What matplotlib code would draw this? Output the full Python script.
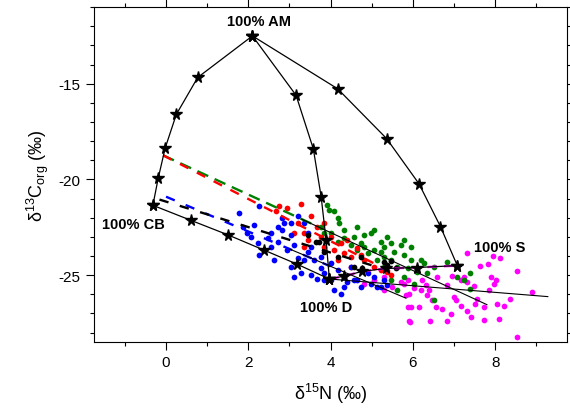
import matplotlib
matplotlib.use("Agg")
import matplotlib.pyplot as plt
from matplotlib.ticker import MultipleLocator

plt.rcParams["font.family"] = ["Liberation Sans", "DejaVu Sans"]
plt.rcParams["mathtext.fontset"] = "custom"
plt.rcParams["mathtext.rm"] = "Liberation Sans"
plt.rcParams["mathtext.it"] = "Liberation Sans:italic"
plt.rcParams["axes.unicode_minus"] = False

# end-member mixing curves (stars)
am_cb_x = [2.1, 0.77, 0.25, -0.02, -0.19, -0.32]
am_cb_y = [-12.5, -14.67, -16.6, -18.35, -19.93, -21.35]
am_d_x = [2.1, 3.16, 3.58, 3.77, 3.89, 3.97]
am_d_y = [-12.5, -15.6, -18.4, -20.9, -23.16, -25.2]
am_s_x = [2.1, 4.17, 5.36, 6.15, 6.67, 7.08]
am_s_y = [-12.5, -15.26, -17.86, -20.23, -22.46, -24.5]
cb_d_x = [-0.32, 0.61, 1.5, 2.37, 3.18, 3.97]
cb_d_y = [-21.35, -22.14, -22.89, -23.68, -24.42, -25.2]
d_s_x = [3.97, 4.33, 4.77, 5.35, 6.1, 7.08]
d_s_y = [-25.2, -25.05, -24.8, -24.65, -24.6, -24.5]

# sample data
blue_x = [1.78, 2.27, 2.14, 2.06, 2.23, 2.27, 2.63, 2.39, 2.47, 2.55, 2.71, 2.83,
          2.87, 2.83, 3.03, 3.11, 3.20, 3.36, 3.44, 3.52, 3.60, 3.52, 3.68, 3.84,
          4.00, 4.17, 4.25, 4.41, 4.49, 4.65, 4.90, 5.06, 5.14, 5.30, 5.38, 4.00,
          3.76, 3.36, 3.11, 3.28, 3.03, 3.84, 4.09, 4.33, 4.73, 3.03, 2.55, 1.98,
          1.86, 3.20, 3.76, 2.95, 2.71, 3.44, 4.33, 4.98, 5.22, 4.57]
blue_y = [-21.75, -21.37, -22.37, -22.98, -23.33, -23.95, -24.21, -23.68, -23.07,
          -22.81, -23.25, -22.02, -22.28, -22.63, -22.89, -23.42, -21.93, -22.28,
          -22.81, -23.51, -24.21, -25.00, -25.18, -24.91, -25.26, -24.74, -25.96,
          -25.35, -24.56, -25.26, -24.91, -25.09, -25.61, -25.26, -25.53, -24.39,
          -24.04, -24.21, -25.09, -24.91, -24.56, -25.26, -25.79, -25.61, -25.61,
          -22.28, -23.51, -22.81, -22.46, -24.12, -24.65, -23.68, -22.46, -23.77,
          -25.09, -25.44, -25.61, -25.26]
red_x = [2.75, 3.28, 2.95, 3.11, 3.36, 3.20, 3.44, 3.68, 3.84, 4.09, 4.25, 4.33,
         4.49, 4.65, 4.81, 5.06, 5.22, 5.38, 4.17, 4.00, 4.41, 3.52, 3.84, 3.76,
         3.36, 4.49, 2.67, 5.46, 4.73]
red_y = [-21.40, -21.26, -21.49, -22.81, -22.81, -22.28, -23.16, -22.46, -23.51,
         -23.68, -23.33, -23.86, -24.04, -23.60, -24.21, -24.56, -24.74, -24.82,
         -24.21, -22.98, -23.16, -21.93, -22.28, -22.98, -23.51, -24.56, -21.67,
         -25.00, -23.95]
green_x = [3.92, 3.96, 4.17, 4.21, 4.33, 4.65, 4.81, 4.98, 5.06, 5.22, 5.30, 5.46,
           5.70, 5.54, 5.79, 5.95, 6.19, 6.27, 6.35, 6.51, 6.84, 7.40, 7.40, 6.51,
           5.62, 5.30, 5.14, 4.90, 4.65, 4.49, 4.33, 4.17, 4.00, 3.84, 3.76, 4.57,
           4.73, 5.06, 5.46, 5.87, 6.03, 5.46, 5.79, 6.11, 7.08, 7.24, 5.95, 5.79,
           5.38, 5.30, 5.62, 4.09, 4.81, 5.22]
green_y = [-21.32, -21.58, -22.02, -22.28, -22.63, -22.46, -22.89, -22.81, -22.63,
           -23.25, -23.51, -23.33, -23.42, -23.77, -23.95, -24.21, -24.21, -24.39,
           -24.91, -24.56, -24.30, -24.91, -25.70, -26.32, -25.79, -24.56, -24.21,
           -23.86, -23.68, -23.42, -23.07, -23.25, -22.81, -22.81, -22.46, -22.98,
           -23.33, -23.68, -24.21, -24.65, -25.44, -25.26, -25.09, -24.82, -25.09,
           -25.26, -23.51, -23.16, -22.98, -24.04, -24.56, -21.67, -23.51, -23.77]
magenta_x = [7.32, 7.95, 8.11, 7.62, 7.82, 8.54, 7.90, 8.01, 7.85, 7.97, 8.90, 8.37,
             8.05, 8.21, 8.09, 8.54, 7.73, 7.42, 7.52, 7.32, 7.04, 7.16, 7.32, 7.24,
             7.48, 6.96, 6.84, 6.72, 6.55, 6.47, 6.35, 6.39, 6.19, 6.03, 5.91, 6.15,
             5.87, 5.93, 6.41, 6.82, 6.93, 7.16, 7.73, 7.57, 7.00, 6.59, 6.23, 6.31,
             5.78, 5.70, 5.87, 5.30, 5.50, 5.83, 5.95, 5.91, 4.81, 5.06, 5.30]
magenta_y = [-23.86, -24.00, -24.12, -24.51, -24.42, -24.77, -25.09, -25.26, -25.75,
             -25.44, -25.88, -26.26, -26.49, -26.63, -27.28, -28.21, -27.33, -27.16,
             -26.53, -26.89, -26.32, -25.26, -25.35, -25.09, -25.58, -25.05, -25.53,
             -26.75, -26.67, -26.32, -26.05, -25.79, -25.79, -25.65, -26.00, -26.67,
             -26.67, -27.46, -27.40, -27.40, -27.05, -26.63, -26.67, -26.23, -26.14,
             -25.09, -25.23, -25.53, -25.44, -25.35, -25.26, -25.79, -25.61, -26.05,
             -26.67, -27.37, -25.44, -25.26, -25.09]
black_x = [3.72, 4.17, 4.57, 4.77, 5.38, 5.58, 3.44, 5.30, 3.84, 3.64, 4.73, 5.46]
black_y = [-23.25, -24.04, -24.56, -24.65, -24.47, -24.65, -22.89, -24.30, -23.77,
           -23.25, -24.07, -24.25]

# regression lines: dashed extrapolation + thin solid fit
red_fit_x = [-0.07, 5.46]
red_fit_y = [-18.74, -24.83]
green_dash_x = [-0.07, 3.8]
green_dash_y = [-18.74, -22.57]
green_fit_x = [3.3, 7.8]
green_fit_y = [-22.08, -26.54]
blue_dash_x = [0.0, 4.0]
blue_dash_y = [-20.9, -24.54]
blue_fit_x = [3.0, 5.83]
blue_fit_y = [-23.63, -26.2]
black_dash_x = [-0.16, 5.4]
black_dash_y = [-21.05, -24.75]
magenta_fit_x = [3.97, 9.28]
magenta_fit_y = [-25.2, -26.12]

fig = plt.figure(figsize=(5.7, 4.1), dpi=100)
ax = fig.add_axes([0.165, 0.163, 0.83, 0.817])

dot = dict(s=17, linewidths=0, zorder=2)
ax.scatter(magenta_x, magenta_y, color="#ff00ff", **dot)
ax.scatter(green_x, green_y, color="#008000", **dot)
ax.scatter(red_x, red_y, color="#ff0000", **dot)
ax.scatter(blue_x, blue_y, color="#0000ff", **dot)
ax.scatter(black_x, black_y, color="black", **dot)

ax.plot(green_dash_x, green_dash_y, color="#008000", lw=1.7, dashes=(5, 3), zorder=3)
ax.plot(red_fit_x, red_fit_y, color="#ff0000", lw=1.7, dashes=(4, 4), zorder=3)
ax.plot(blue_dash_x, blue_dash_y, color="#0000ff", lw=1.7, dashes=(4, 5), zorder=3)
ax.plot(black_dash_x, black_dash_y, color="black", lw=1.7, dashes=(4, 5),
        dash_capstyle="butt", zorder=3)
ax.plot(d_s_x, d_s_y, color="#ff00ff", lw=1.7, dashes=(4, 3), zorder=3)
for fx, fy in [(green_fit_x, green_fit_y), (blue_fit_x, blue_fit_y),
               (magenta_fit_x, magenta_fit_y)]:
    ax.plot(fx, fy, color="black", lw=0.8, zorder=4)

for cx, cy in [(am_cb_x, am_cb_y), (am_d_x, am_d_y), (am_s_x, am_s_y),
               (cb_d_x, cb_d_y), (d_s_x, d_s_y)]:
    ax.plot(cx, cy, color="black", lw=0.9, marker="*", ms=8.5, zorder=5)

lab = dict(fontsize=10.5, fontweight="bold", ha="center", va="center", zorder=6)
ax.text(2.25, -11.72, "100% AM", **lab)
ax.text(-0.79, -22.32, "100% CB", **lab)
ax.text(8.1, -23.55, "100% S", **lab)
ax.text(3.88, -26.65, "100% D", **lab)

ax.set_xlim(-1.75, 9.75)
ax.set_ylim(-28.5, -11.0)
ax.xaxis.set_major_locator(MultipleLocator(2))
ax.xaxis.set_minor_locator(MultipleLocator(1))
ax.yaxis.set_major_locator(MultipleLocator(5))
ax.yaxis.set_minor_locator(MultipleLocator(1))
ax.tick_params(which="both", direction="out", right=True, top=True, labelsize=11,
               width=0.8)
ax.tick_params(which="major", length=6)
ax.tick_params(which="minor", length=3)

ax.set_xlabel("δ$^{15}$N (‰)", fontsize=13, labelpad=8)
ax.set_ylabel("δ$^{13}$C$_{\\mathrm{org}}$ (‰)", fontsize=13, labelpad=6)

fig.savefig("out.png", dpi=100, facecolor="white")
